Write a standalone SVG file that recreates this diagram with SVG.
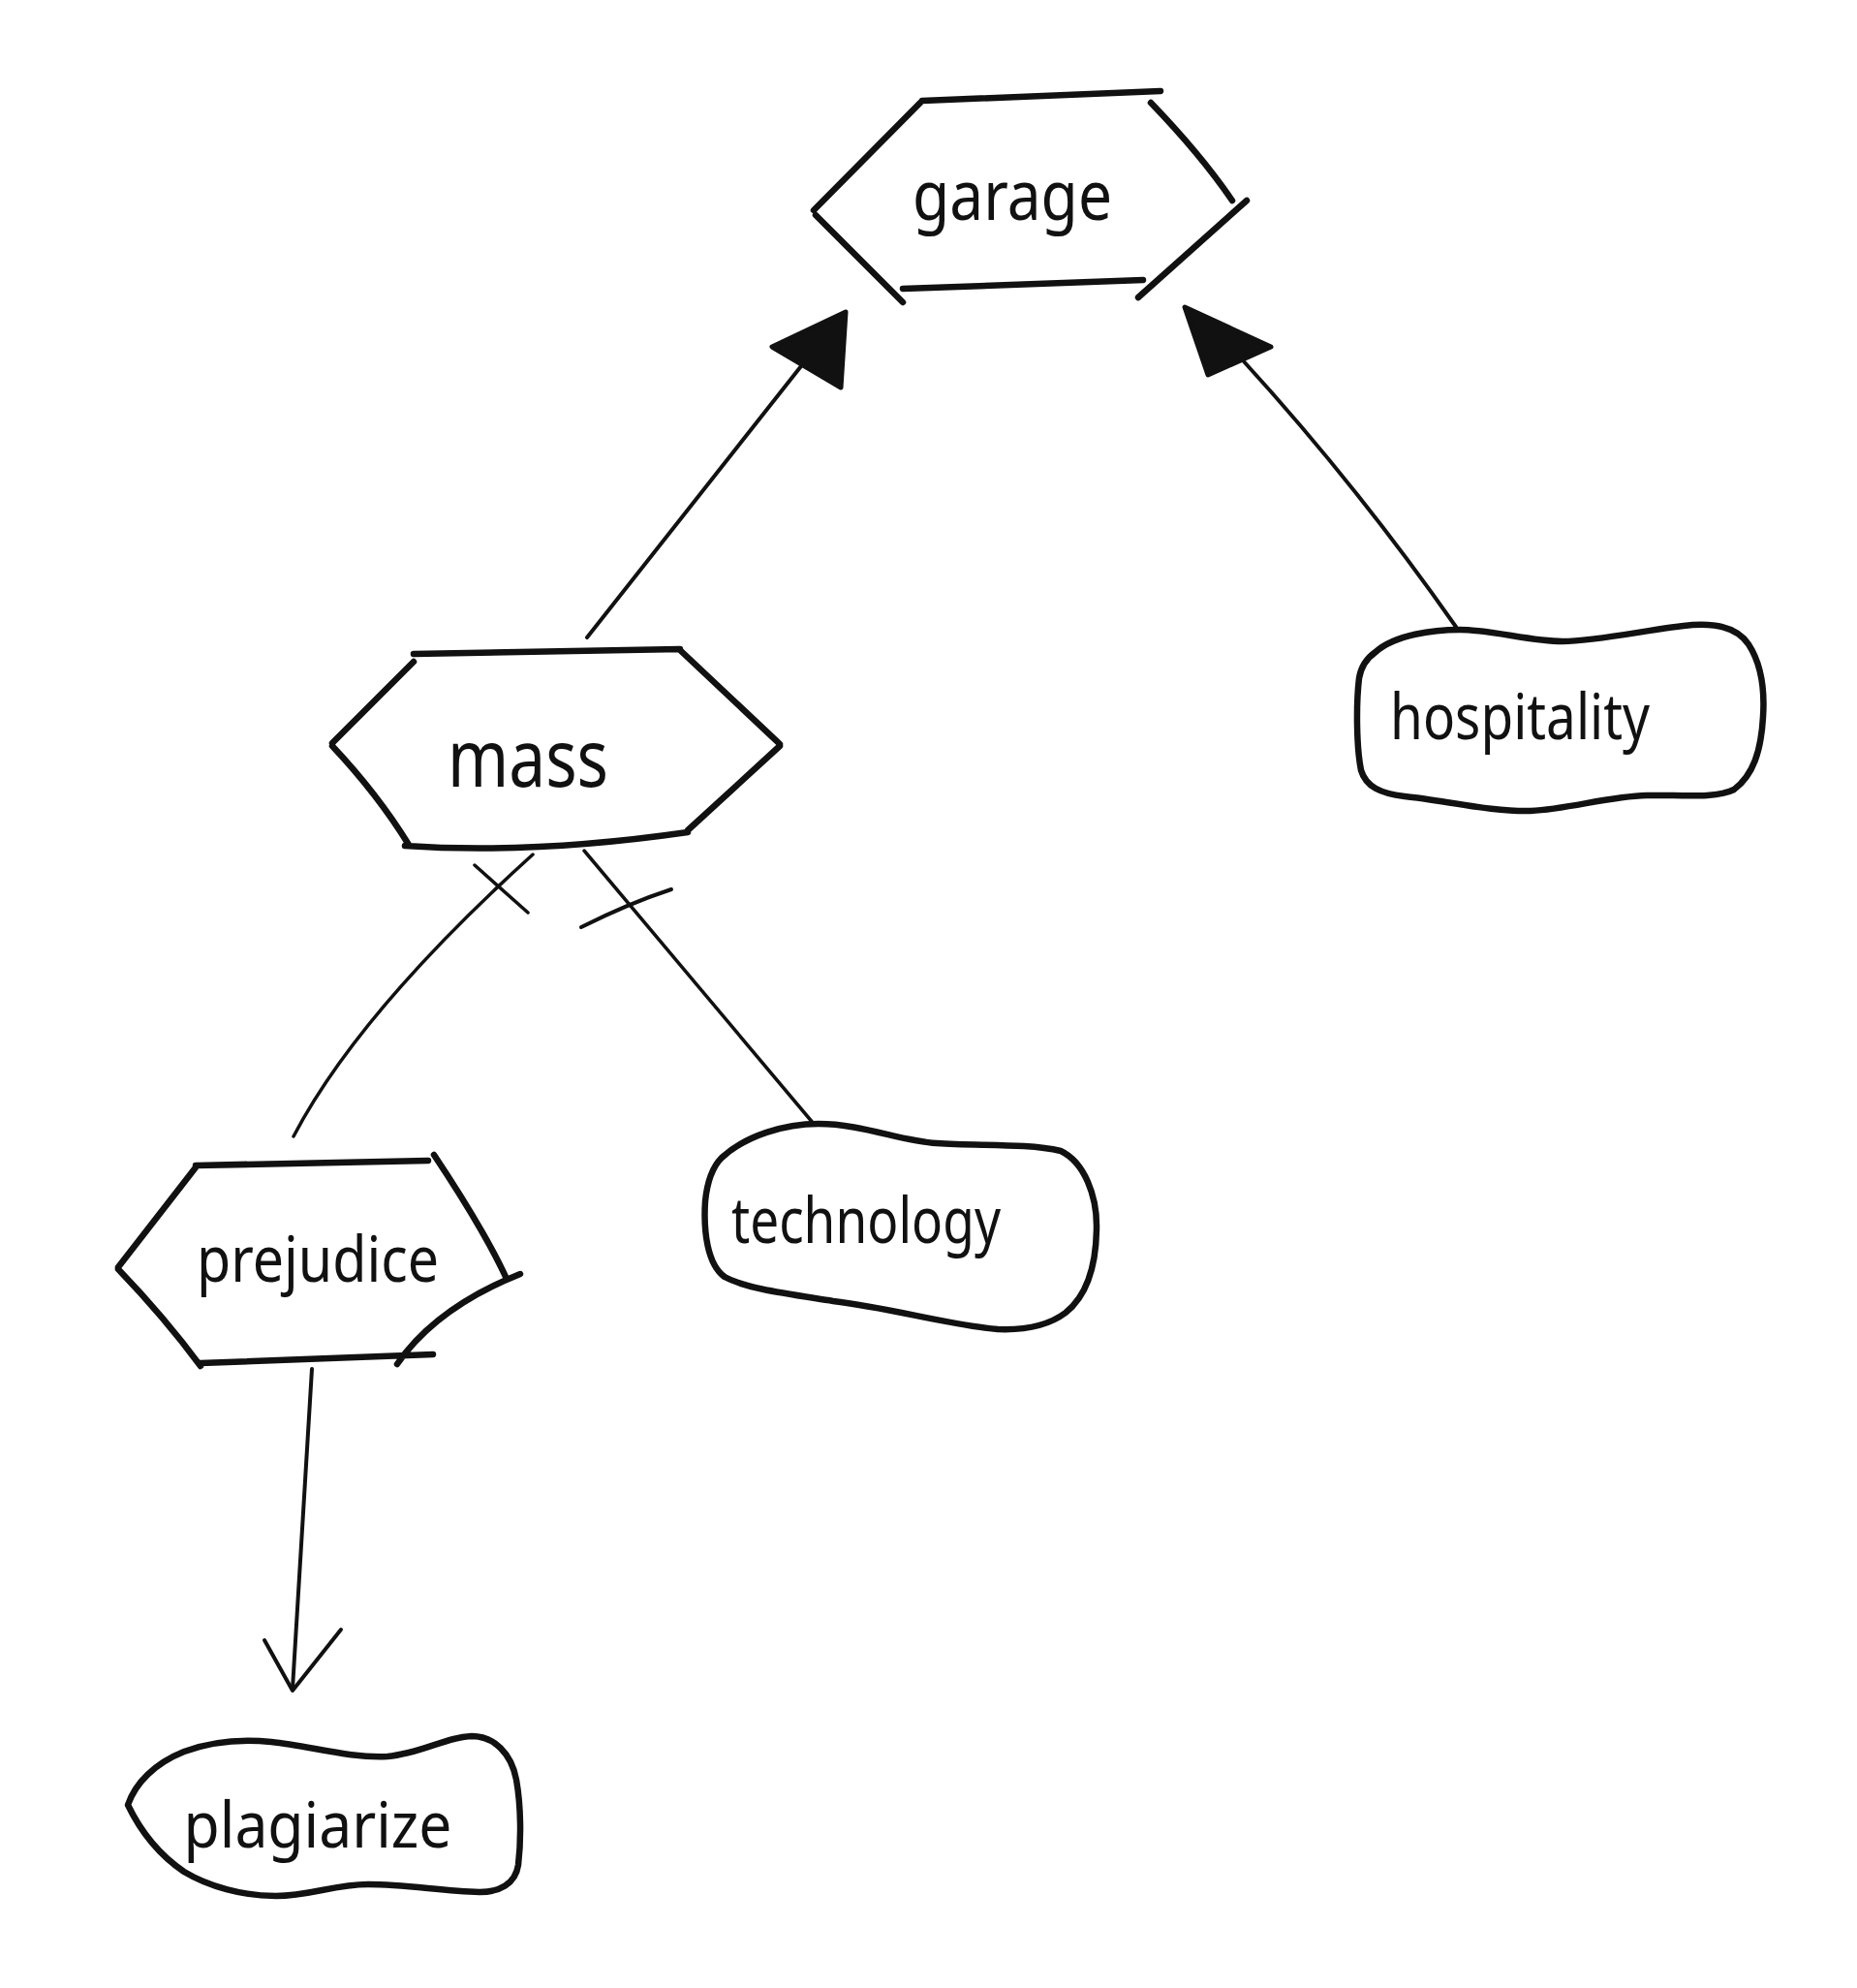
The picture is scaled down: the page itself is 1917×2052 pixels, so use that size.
<svg xmlns="http://www.w3.org/2000/svg" width="1917" height="2052" viewBox="0 0 1917 2052">
  <style>
    .outline { fill: none; stroke: #111; stroke-width: 6.5; stroke-linecap: round; stroke-linejoin: round; }
    .edge { fill: none; stroke: #111; stroke-width: 4; stroke-linecap: round; stroke-linejoin: round; }
    .edge.thin { stroke-width: 3.5; }
    .head { fill: #111; stroke: #111; stroke-width: 5; stroke-linejoin: round; }
    .label { font-family: "Noto Sans", "DejaVu Sans", sans-serif; font-size: 66px; fill: #111; text-anchor: middle; }
  </style>
  <rect width="1917" height="2052" fill="#ffffff"/>

  <!-- connectors -->
  <g id="connectors">
    <!-- mass to garage -->
    <path class="edge" d="M606,658 L838,364"/>
    <polygon class="head" points="873,322 797,358 868,400"/>
    <!-- hospitality to garage -->
    <path class="edge" d="M1503,647 Q1400,500 1283,372"/>
    <polygon class="head" points="1223,317 1247,387 1312,358"/>
    <!-- prejudice to mass, with bar -->
    <path class="edge thin" d="M303,1173 Q370,1045 550,882"/>
    <path class="edge thin" d="M490,893 L545,942"/>
    <!-- technology to mass, with bar -->
    <path class="edge thin" d="M840,1160 L603,878"/>
    <path class="edge" d="M600,957 Q650,932 693,918"/>
    <!-- prejudice to plagiarize -->
    <path class="edge" d="M322,1413 Q310,1600 302,1743"/>
    <path class="edge" d="M273,1693 L302,1745 L352,1682"/>
  </g>

  <!-- garage -->
  <g id="garage">
    <path class="outline" d="M952,104 L1198,94 M950,106 L840,217 M842,222 L932,312 M932,298 L1180,289 M1188,106 Q1240,160 1272,207 M1287,207 L1175,307"/>
    <text class="label" x="1045" y="227" style="font-size:72px" textLength="206" lengthAdjust="spacingAndGlyphs">garage</text>
  </g>

  <!-- mass -->
  <g id="mass">
    <path class="outline" d="M427,675 L702,670 M427,683 L343,767 M343,770 Q390,820 422,872 M418,873 Q550,882 710,859 M703,672 L805,768 M805,770 L710,857"/>
    <text class="label" x="545" y="812" style="font-size:82px" textLength="166" lengthAdjust="spacingAndGlyphs">mass</text>
  </g>

  <!-- prejudice -->
  <g id="prejudice">
    <path class="outline" d="M202,1203 L442,1198 M202,1205 L122,1308 M122,1310 Q170,1360 207,1410 M207,1407 L447,1398 M448,1192 Q500,1270 523,1320 M537,1315 Q450,1350 410,1408"/>
    <text class="label" x="328" y="1323" textLength="250" lengthAdjust="spacingAndGlyphs">prejudice</text>
  </g>

  <!-- technology -->
  <g id="technology">
    <path class="outline" d="M745,1195 C770,1172 810,1160 845,1160 C890,1160 930,1178 967,1180 C1010,1183 1060,1180 1095,1188 C1120,1200 1132,1235 1132,1265 C1132,1300 1125,1335 1100,1355 C1080,1370 1055,1373 1030,1372 C980,1368 920,1350 860,1343 C810,1335 770,1330 748,1318 C730,1305 726,1270 728,1240 C730,1220 735,1205 745,1195 Z"/>
    <text class="label" x="894" y="1283" textLength="278" lengthAdjust="spacingAndGlyphs">technology</text>
  </g>

  <!-- hospitality -->
  <g id="hospitality">
    <path class="outline" d="M1420,673 C1440,655 1480,650 1507,650 C1540,650 1580,662 1613,662 C1650,662 1710,648 1747,645 C1775,643 1795,650 1805,665 C1818,685 1822,710 1820,740 C1818,775 1810,800 1790,815 C1770,825 1730,820 1700,821 C1660,822 1620,835 1580,837 C1540,838 1490,826 1450,822 C1425,819 1410,812 1405,795 C1400,770 1400,725 1403,700 C1405,688 1410,680 1420,673 Z"/>
    <text class="label" x="1569" y="763" textLength="268" lengthAdjust="spacingAndGlyphs">hospitality</text>
  </g>

  <!-- plagiarize -->
  <g id="plagiarize">
    <path class="outline" d="M132,1863 C140,1840 160,1820 190,1808 C220,1797 250,1795 280,1798 C320,1802 360,1815 400,1813 C435,1810 460,1793 487,1792 C510,1792 528,1810 533,1837 C538,1865 538,1900 535,1925 C532,1945 515,1953 495,1953 C455,1952 420,1945 380,1945 C345,1945 320,1957 285,1957 C250,1957 215,1947 190,1932 C165,1915 145,1890 132,1863 Z"/>
    <text class="label" x="328" y="1907" textLength="277" lengthAdjust="spacingAndGlyphs">plagiarize</text>
  </g>
</svg>
